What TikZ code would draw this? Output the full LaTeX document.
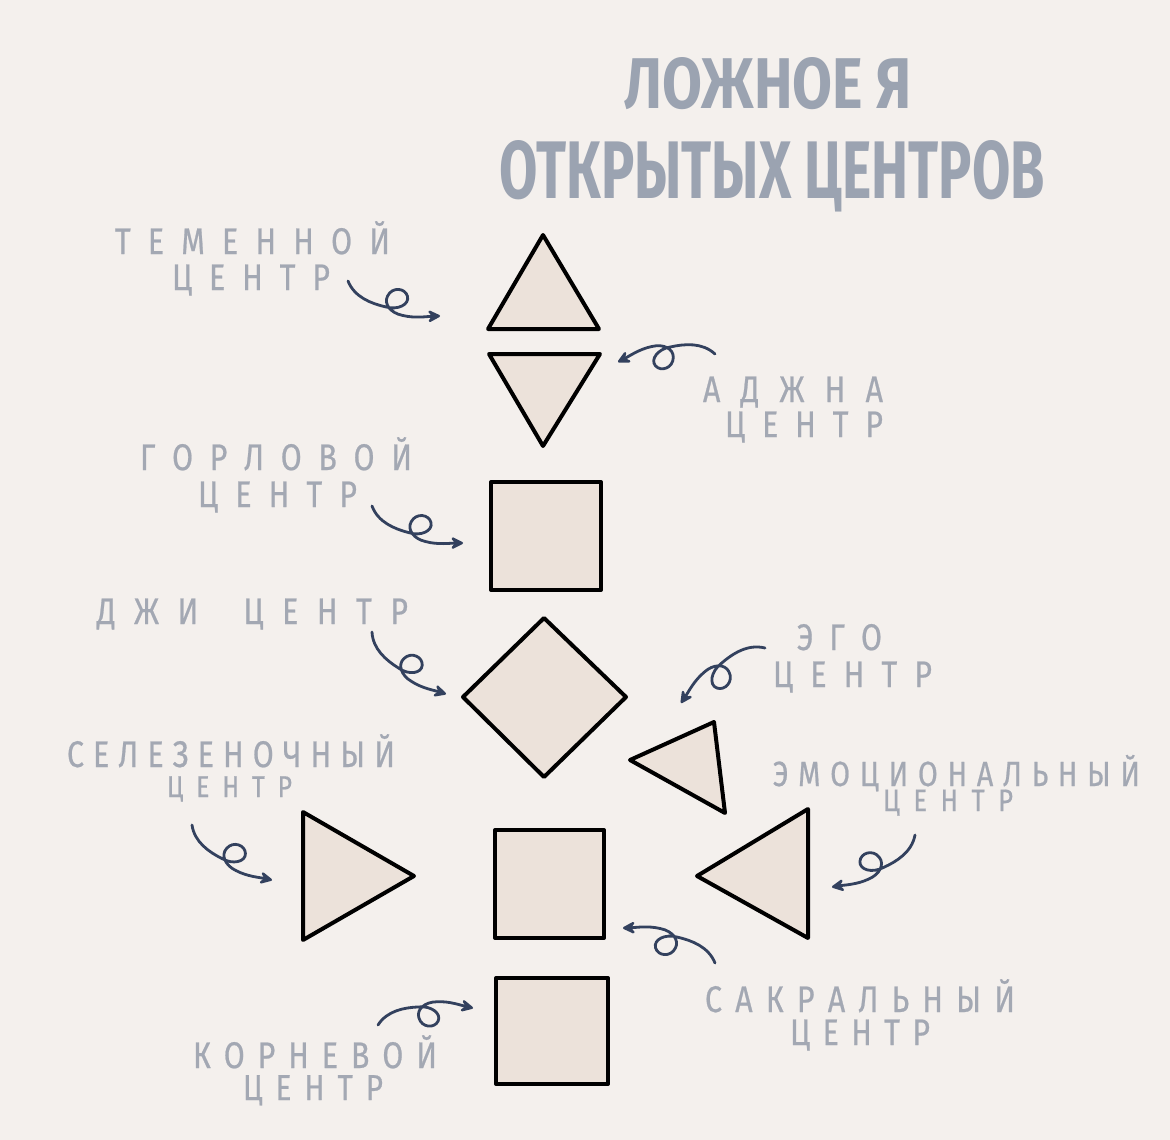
\documentclass[tikz,border=0pt]{standalone}
\usepackage{fontspec}
\usepackage{graphicx}
\usetikzlibrary{calc,arrows.meta}
\newfontfamily\lblfam[FakeStretch=0.82,FakeBold=0.6]{Fira Sans}
\newfontfamily\ttlfam[FakeStretch=0.75]{Fira Sans}
\definecolor{bgc}{HTML}{F4F0ED}
\definecolor{fillc}{HTML}{ECE2DA}
\definecolor{txtc}{HTML}{A3A8B3}
\definecolor{ttlc}{HTML}{9BA3B1}
\definecolor{arrc}{HTML}{33415E}
\makeatletter
\def\spc#1{\spc@a#1\relax}
\def\spc@a#1#2{#1\ifx\relax#2\else\hfill\expandafter\spc@a\expandafter#2\fi}
\makeatother
\newcommand\lbltext[3]{\fontsize{#3}{#3}\selectfont\makebox[#1pt][s]{\spc{#2}}}
\tikzset{
  shp/.style={draw=black, line width=4pt, line join=round, fill=fillc},
  lbl/.style={text=txtc, font=\lblfam, inner sep=0pt, anchor=base},
  ttl/.style={text=ttlc, font=\ttlfam\bfseries, inner sep=0pt, anchor=base},
  squig/.style={draw=arrc, line width=2.8pt, line cap=round, line join=round,
    -{Stealth[length=16pt,width=16pt,inset=6.5pt,round]},
    to path={
      .. controls ($(\tikztostart)!0.12!(\tikztotarget)!0.148!#1:(\tikztotarget)$)
      and ($(\tikztostart)!0.30!(\tikztotarget)!0.186!#1:(\tikztotarget)$)
      .. ($(\tikztostart)!0.45!(\tikztotarget)!0.2!#1:(\tikztotarget)$)
      .. controls ($(\tikztostart)!0.58!(\tikztotarget)!0.238!#1:(\tikztotarget)$)
      and ($(\tikztostart)!0.67!(\tikztotarget)$)
      .. ($(\tikztostart)!0.62!(\tikztotarget)!-0.184!#1:(\tikztotarget)$)
      .. controls ($(\tikztostart)!0.57!(\tikztotarget)!-0.326!#1:(\tikztotarget)$)
      and ($(\tikztostart)!0.44!(\tikztotarget)!-0.196!#1:(\tikztotarget)$)
      .. ($(\tikztostart)!0.43!(\tikztotarget)$)
      .. controls ($(\tikztostart)!0.42!(\tikztotarget)!0.155!#1:(\tikztotarget)$)
      and ($(\tikztostart)!0.52!(\tikztotarget)!0.3125!#1:(\tikztotarget)$)
      .. ($(\tikztostart)!0.64!(\tikztotarget)!0.361!#1:(\tikztotarget)$)
      .. controls ($(\tikztostart)!0.77!(\tikztotarget)!0.5!#1:(\tikztotarget)$)
      and ($(\tikztostart)!0.88!(\tikztotarget)!0.417!#1:(\tikztotarget)$)
      .. (\tikztotarget)
    }},
}
\begin{document}
\begin{tikzpicture}[x=1pt,y=-1pt]
\fill[bgc] (0,0) rectangle (1170,1140);
\useasboundingbox (0,0) rectangle (1170,1140);

% title
\node[ttl] (title1) at (768.5,108) {\resizebox{287pt}{51pt}{ЛОЖНОЕ Я}};
\node[ttl] (title2) at (772.5,198) {\resizebox{545pt}{58pt}{ОТКРЫТЫХ ЦЕНТРОВ}};

% shapes
\draw[shp] (543,235) -- (599,329) -- (488,329) -- cycle;
\draw[shp] (489,354) -- (600,354) -- (543,446) -- cycle;
\draw[shp] (491,482) rectangle (601,590);
\draw[shp] (544,618) -- (626,697) -- (544,777) -- (463,697) -- cycle;
\draw[shp] (630,760) -- (714,722) -- (725,813) -- cycle;
\draw[shp] (303,812) -- (414,876) -- (303,940) -- cycle;
\draw[shp] (495,830) rectangle (604,938);
\draw[shp] (697,876) -- (808,809) -- (808,938) -- cycle;
\draw[shp] (496,978) rectangle (608,1084);

% labels
\node[lbl] (l1a) at (252.5,254) {\lbltext{275}{ТЕМЕННОЙ}{37}};
\node[lbl] (l1b) at (251,290) {\lbltext{158}{ЦЕНТР}{37}};
\node[lbl] (l2a) at (793,402) {\lbltext{180}{АДЖНА}{37}};
\node[lbl] (l2b) at (804,437) {\lbltext{158}{ЦЕНТР}{37}};
\node[lbl] (l3a) at (276,470) {\lbltext{272}{ГОРЛОВОЙ}{37}};
\node[lbl] (l3b) at (277.5,507) {\lbltext{159}{ЦЕНТР}{37}};
\node[lbl] (l4) at (252.5,624) {\lbltext{311}{ДЖИ~ЦЕНТР}{37}};
\node[lbl] (l5a) at (839.5,650) {\lbltext{85}{ЭГО}{37}};
\node[lbl] (l5b) at (852.5,687) {\lbltext{159}{ЦЕНТР}{37}};
\node[lbl] (l6a) at (231,767) {\lbltext{328}{СЕЛЕЗЕНОЧНЫЙ}{37}};
\node[lbl] (l6b) at (229.5,797) {\lbltext{125}{ЦЕНТР}{30}};
\node[lbl] (l7a) at (956.5,786) {\lbltext{367}{ЭМОЦИОНАЛЬНЫЙ}{35}};
\node[lbl] (l7b) at (948,811) {\lbltext{130}{ЦЕНТР}{31}};
\node[lbl] (l8a) at (860,1012) {\lbltext{310}{САКРАЛЬНЫЙ}{37}};
\node[lbl] (l8b) at (860,1045) {\lbltext{140}{ЦЕНТР}{37}};
\node[lbl] (l9a) at (315,1068) {\lbltext{244}{КОРНЕВОЙ}{37}};
\node[lbl] (l9b) at (313,1100) {\lbltext{140}{ЦЕНТР}{36}};

% arrows
\coordinate (a1s) at (348,281);  \coordinate (a1e) at (440,316);
\coordinate (a2s) at (715,354);  \coordinate (a2e) at (618,362);
\coordinate (a3s) at (372,506);  \coordinate (a3e) at (463,543);
\coordinate (a4s) at (372,632);  \coordinate (a4e) at (446,694);
\coordinate (a5s) at (765,648);  \coordinate (a5e) at (681,703);
\coordinate (a6s) at (192,825);  \coordinate (a6e) at (272,880);
\coordinate (a7s) at (915,835);  \coordinate (a7e) at (832,887);
\coordinate (a8s) at (715,963);  \coordinate (a8e) at (623,928);
\coordinate (a9s) at (378,1025); \coordinate (a9e) at (473,1008);
\draw[squig=-90] (a1s) to (a1e);
\draw[squig=-90] (a2s) to (a2e);
\draw[squig=-90] (a3s) to (a3e);
\draw[squig=-90] (a4s) to (a4e);
\draw[squig=-90] (a5s) to (a5e);
\draw[squig=-90] (a6s) to (a6e);
\draw[squig=90] (a7s) to (a7e);
\draw[squig=-90] (a8s) to (a8e);
\draw[squig=90] (a9s) to (a9e);
\end{tikzpicture}
\end{document}
